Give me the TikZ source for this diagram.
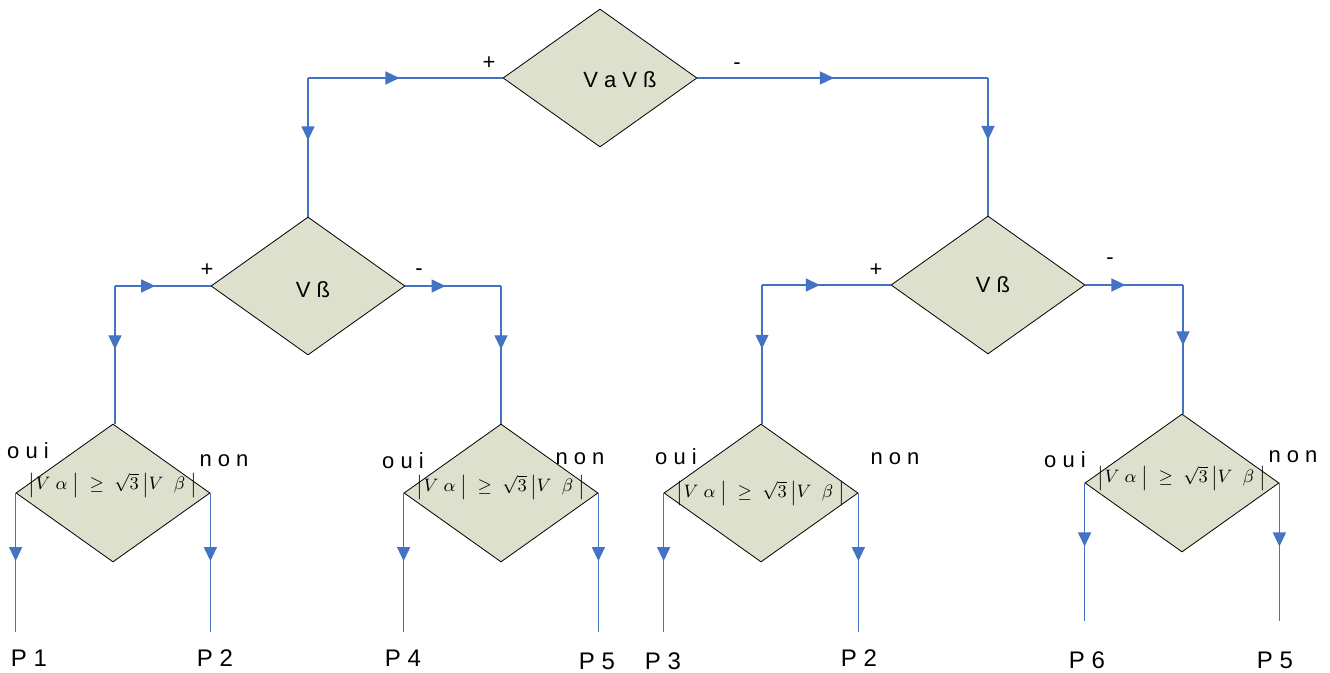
\documentclass[tikz,border=0pt]{standalone}
\usepackage[no-math]{fontspec}
\setmainfont{Liberation Sans}
\usetikzlibrary{arrows.meta, decorations.markings, shapes.geometric, positioning}

\definecolor{flowblue}{RGB}{68,114,196}
\definecolor{testfill}{RGB}{220,224,204}

\tikzset{
  test/.style={diamond, draw=black, line width=0.4pt, fill=testfill,
    inner sep=0pt, minimum width=97pt, minimum height=69pt},
  flow/.style={color=flowblue, line width=0.7pt},
  tipat/.style={postaction={decorate}, decoration={markings,
    mark=at position #1 with {\arrow{Triangle[length=7pt,width=6.5pt]}}}},
  sign/.style={font=\fontsize{11}{13}\selectfont, inner sep=0pt},
  word/.style={font=\fontsize{11}{13}\selectfont, inner sep=0pt},
  plabel/.style={font=\fontsize{12}{14}\selectfont, inner sep=0pt},
  formula/.style={font=\fontsize{9}{11}\selectfont, inner sep=0pt},
}

\newcommand{\vtest}{$\bigl|V\;\alpha\;\bigr|\;\geq\;\sqrt{3}\,\bigl|V\;\;\beta\;\bigr|$}

\begin{document}
\begin{tikzpicture}[x=0.5pt, y=-0.5pt]
  \useasboundingbox (0,0) rectangle (1330,673);

  % decision diamonds
  \node[test] (d0) at (600,78) {};
  \node[test] (d1) at (308,286) {};
  \node[test] (d2) at (988,285) {};
  \node[test] (q1) at (113,493) {};
  \node[test] (q2) at (501,493) {};
  \node[test] (q3) at (761,493) {};
  \node[test] (q4) at (1182,483) {};

  % texts inside
  \node[word] (t0) at (620,80) {V a V ß};
  \node[word] (t1) at (313,290) {V ß};
  \node[word] (t2) at (993,285) {V ß};
  \node[formula] (f1) at (113,485) {\vtest};
  \node[formula] (f2) at (501,487) {\vtest};
  \node[formula] (f3) at (761,493) {\vtest};
  \node[formula] (f4) at (1182,478) {\vtest};

  % first level
  \coordinate (k1) at (d1.north |- d0.west);
  \coordinate (k2) at (d2.north |- d0.east);
  \draw[flow, tipat=0.47] (k1) -- (d0.west);
  \draw[flow, tipat=0.45] (k1) -- (d1.north);
  \draw[flow, tipat=0.47] (d0.east) -- (k2);
  \draw[flow, tipat=0.45] (k2) -- (d2.north);

  % second level
  \coordinate (k3) at (115,286);
  \coordinate (k4) at (501,286);
  \coordinate (k5) at (762,285);
  \coordinate (k6) at (1183,285);
  \draw[flow, tipat=0.42] (k3) -- (d1.west);
  \draw[flow, tipat=0.46] (k3) -- (k3 |- q1.north);
  \draw[flow, tipat=0.42] (d1.east) -- (k4);
  \draw[flow, tipat=0.46] (k4) -- (q2.north);
  \draw[flow, tipat=0.45] (k5) -- (d2.west);
  \draw[flow, tipat=0.46] (k5) -- (k5 |- q3.north);
  \draw[flow, tipat=0.41] (d2.east) -- (k6);
  \draw[flow, tipat=0.47] (k6) -- (k6 |- q4.north);

  % outputs
  \coordinate (e1) at (q1.west |- 0,632);
  \coordinate (e2) at (q1.east |- 0,632);
  \coordinate (e3) at (q2.west |- 0,632);
  \coordinate (e4) at (q2.east |- 0,632);
  \coordinate (e5) at (q3.west |- 0,632);
  \coordinate (e6) at (q3.east |- 0,632);
  \coordinate (e7) at (q4.west |- 0,621);
  \coordinate (e8) at (q4.east |- 0,621);
  \draw[flow, tipat=0.49] (q1.west) -- (e1);
  \draw[flow, tipat=0.49] (q1.east) -- (e2);
  \draw[flow, tipat=0.49] (q2.west) -- (e3);
  \draw[flow, tipat=0.49] (q2.east) -- (e4);
  \draw[flow, tipat=0.49] (q3.west) -- (e5);
  \draw[flow, tipat=0.49] (q3.east) -- (e6);
  \draw[flow, tipat=0.46] (q4.west) -- (e7);
  \draw[flow, tipat=0.46] (q4.east) -- (e8);

  % signs
  \node[sign] (s0p) at (489,63) {+};
  \node[sign] (s0m) at (737,66) {-};
  \node[sign] (s1p) at (207,270) {+};
  \node[sign] (s1m) at (419,272) {-};
  \node[sign] (s2p) at (876,270) {+};
  \node[sign] (s2m) at (1110,261) {-};

  % oui / non
  \node[word] (o1) at (28,451) {o u i};
  \node[word] (n1) at (224,461) {n o n};
  \node[word] (o2) at (403,461) {o u i};
  \node[word] (n2) at (580,459) {n o n};
  \node[word] (o3) at (676,457) {o u i};
  \node[word] (n3) at (895,459) {n o n};
  \node[word] (o4) at (1065,460) {o u i};
  \node[word] (n4) at (1293,457) {n o n};

  % results
  \node[plabel] (p1) at (29,658) {P 1};
  \node[plabel] (p2) at (215,658) {P 2};
  \node[plabel] (p4) at (403,658) {P 4};
  \node[plabel] (p5) at (597,661) {P 5};
  \node[plabel] (p3) at (663,661) {P 3};
  \node[plabel] (p2b) at (859,658) {P 2};
  \node[plabel] (p6) at (1087,660) {P 6};
  \node[plabel] (p5b) at (1275,660) {P 5};
\end{tikzpicture}
\end{document}
